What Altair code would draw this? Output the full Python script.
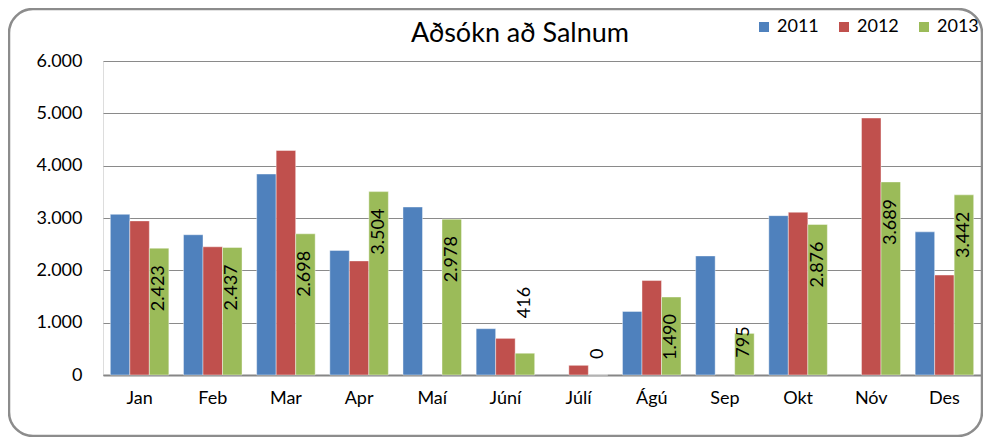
import altair as alt
import pandas as pd

months = ["Jan", "Feb", "Mar", "Apr", "Maí", "Júní", "Júlí", "Ágú", "Sep", "Okt", "Nóv", "Des"]
years = ["2011", "2012", "2013"]
v2011 = [3070, 2680, 3840, 2380, 3210, 885, None, 1215, 2275, 3045, None, 2735]
v2012 = [2945, 2450, 4290, 2180, None, 700, 185, 1805, None, 3110, 4910, 1910]
v2013 = [2423, 2437, 2698, 3504, 2978, 416, 0, 1490, 795, 2876, 3689, 3442]
colors = ["#4F81BD", "#C0504D", "#9BBB59"]
y_ticks = [0, 1000, 2000, 3000, 4000, 5000, 6000]
title_text = "Aðsókn að Salnum"

rows = []
for yr, vals in zip(years, [v2011, v2012, v2013]):
    for m, v in zip(months, vals):
        rows.append({"month": m, "year": yr, "v": v})
df = pd.DataFrame(rows)

FONT = "Lato"
W, H = 878, 314

x_enc = alt.X("month:N", sort=months, title=None,
              scale=alt.Scale(paddingInner=0.2, paddingOuter=0.1),
              axis=alt.Axis(labelAngle=0, ticks=False, domainColor="#868686", domainWidth=2,
                            labelFont=FONT, labelFontSize=18, labelColor="#000000",
                            labelPadding=14, grid=False))
xo_enc = alt.XOffset("year:N", scale=alt.Scale(domain=years))
y_enc = alt.Y("v:Q", title=None,
              scale=alt.Scale(domain=[0, 6000], nice=False),
              axis=alt.Axis(values=y_ticks, domain=False, ticks=False, gridColor="#8a8a8a",
                            gridWidth=1.2, labelFont=FONT, labelFontSize=18, labelColor="#000000",
                            labelPadding=21,
                            labelExpr="replace(format(datum.value, ','), ',', '.')"))

base = alt.Chart(df)

bars = base.mark_bar(stroke="white", strokeWidth=0.7, strokeOpacity=0.6).encode(
    x=x_enc, xOffset=xo_enc, y=y_enc,
    color=alt.Color("year:N", scale=alt.Scale(domain=years, range=colors),
                    legend=alt.Legend(orient="none", legendX=652, legendY=-43,
                                      direction="horizontal", title=None,
                                      symbolType="square", symbolSize=100,
                                      symbolStrokeWidth=0, labelFont=FONT,
                                      labelFontSize=18, labelColor="#000000",
                                      labelOffset=4, columnPadding=16, padding=0)),
)

lbl = "replace(format(datum.v, ','), ',', '.')"


def label_layer(cond, align, dx):
    return base.transform_filter("datum.year == '2013' && " + cond).transform_calculate(
        lbl=lbl).mark_text(angle=270, align=align, baseline="middle", dx=dx,
                           font=FONT, fontSize=18, color="#000000").encode(
        x=x_enc, xOffset=xo_enc, y=y_enc, text="lbl:N")


inside = label_layer("datum.v >= 1000", "right", -17)
inside_small = label_layer("datum.v >= 700 && datum.v < 1000", "right", 7)
outside1 = label_layer("datum.v > 0 && datum.v < 700", "left", 35)
outside0 = label_layer("datum.v == 0", "left", 16)

title = alt.Chart(alt.Data(values=[{"t": title_text}])).mark_text(
    font=FONT, fontSize=27, color="#000000", align="center", baseline="alphabetic").encode(
    x=alt.value(417), y=alt.value(-19), text="t:N")

border = alt.Chart(alt.Data(values=[{}])).mark_rect(
    fillOpacity=0, stroke="#8c8c8c", strokeWidth=2.5, cornerRadius=24).encode(
    x=alt.value(-94), x2=alt.value(W + 1), y=alt.value(-52), y2=alt.value(H + 61))

chart = alt.layer(bars, inside, inside_small, outside1, outside0, title, border).properties(
    width=W, height=H,
    autosize=alt.AutoSizeParams(type="none"),
    padding={"left": 95, "top": 53, "right": 2, "bottom": 62},
).configure_view(stroke=None).configure(background="white")

chart.save("out.html", embed_options={"renderer": "svg", "actions": False})
